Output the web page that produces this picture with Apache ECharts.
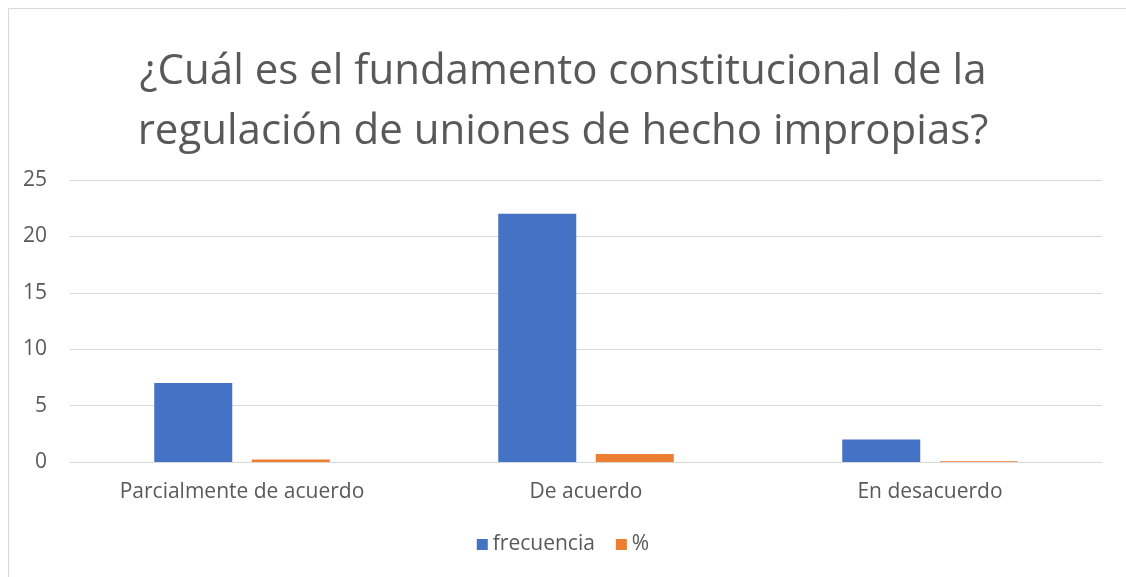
<!DOCTYPE html>
<html>
<head>
<meta charset="utf-8">
<script src="https://cdn.jsdelivr.net/npm/echarts@6/dist/echarts.min.js"></script>
<style>
  html, body { margin: 0; padding: 0; background: #fff; }
  #chart { width: 1126px; height: 577px; }
</style>
</head>
<body>
<div id="chart"></div>
<script>
var categories = ["Parcialmente de acuerdo", "De acuerdo", "En desacuerdo"];
var frecuencia = [7, 22, 2];
var porcentaje = [0.23, 0.71, 0.06];
var yTicks = [0, 5, 10, 15, 20, 25];

var myChart = echarts.init(document.getElementById("chart"));
var textColor = "#595959";
var fontName = "Open Sans";

var option = {
    animation: false,
    textStyle: { fontFamily: fontName, color: textColor },
    graphic: [{
        type: "rect",
        shape: { x: 8.5, y: 8.5, width: 1200, height: 700 },
        style: { fill: "none", stroke: "#d9d9d9", lineWidth: 1 },
        silent: true
    }],
    title: {
        text: "¿Cuál es el fundamento constitucional de la\nregulación de uniones de hecho impropias?",
        left: "center",
        top: 37,
        textStyle: {
            fontFamily: fontName,
            fontSize: 42,
            fontWeight: "normal",
            color: textColor,
            lineHeight: 60
        }
    },
    legend: {
        bottom: 17,
        left: "center",
        itemWidth: 11,
        itemHeight: 11,
        itemGap: 21,
        icon: "rect",
        textStyle: { fontFamily: fontName, fontSize: 21, color: textColor },
        data: ["frecuencia", "%"]
    },
    grid: {
        left: 70,
        right: 24,
        top: 180,
        bottom: 115
    },
    xAxis: {
        type: "category",
        data: categories,
        axisTick: { show: false },
        axisLine: { lineStyle: { color: "#d9d9d9" } },
        axisLabel: { fontFamily: fontName, fontSize: 21, color: textColor, margin: 20 }
    },
    yAxis: {
        type: "value",
        min: yTicks[0],
        max: yTicks[yTicks.length - 1],
        interval: 5,
        axisLine: { show: false },
        axisTick: { show: false },
        splitLine: { lineStyle: { color: "#d9d9d9" } },
        axisLabel: { fontFamily: fontName, fontSize: 21, color: textColor, margin: 23 }
    },
    series: [
        {
            name: "frecuencia",
            type: "bar",
            data: frecuencia,
            barWidth: 78,
            barGap: "25%",
            itemStyle: { color: "#4472c4" }
        },
        {
            name: "%",
            type: "bar",
            data: porcentaje,
            barWidth: 78,
            itemStyle: { color: "#ed7d31" }
        }
    ]
};
myChart.setOption(option, true);
</script>
</body>
</html>
